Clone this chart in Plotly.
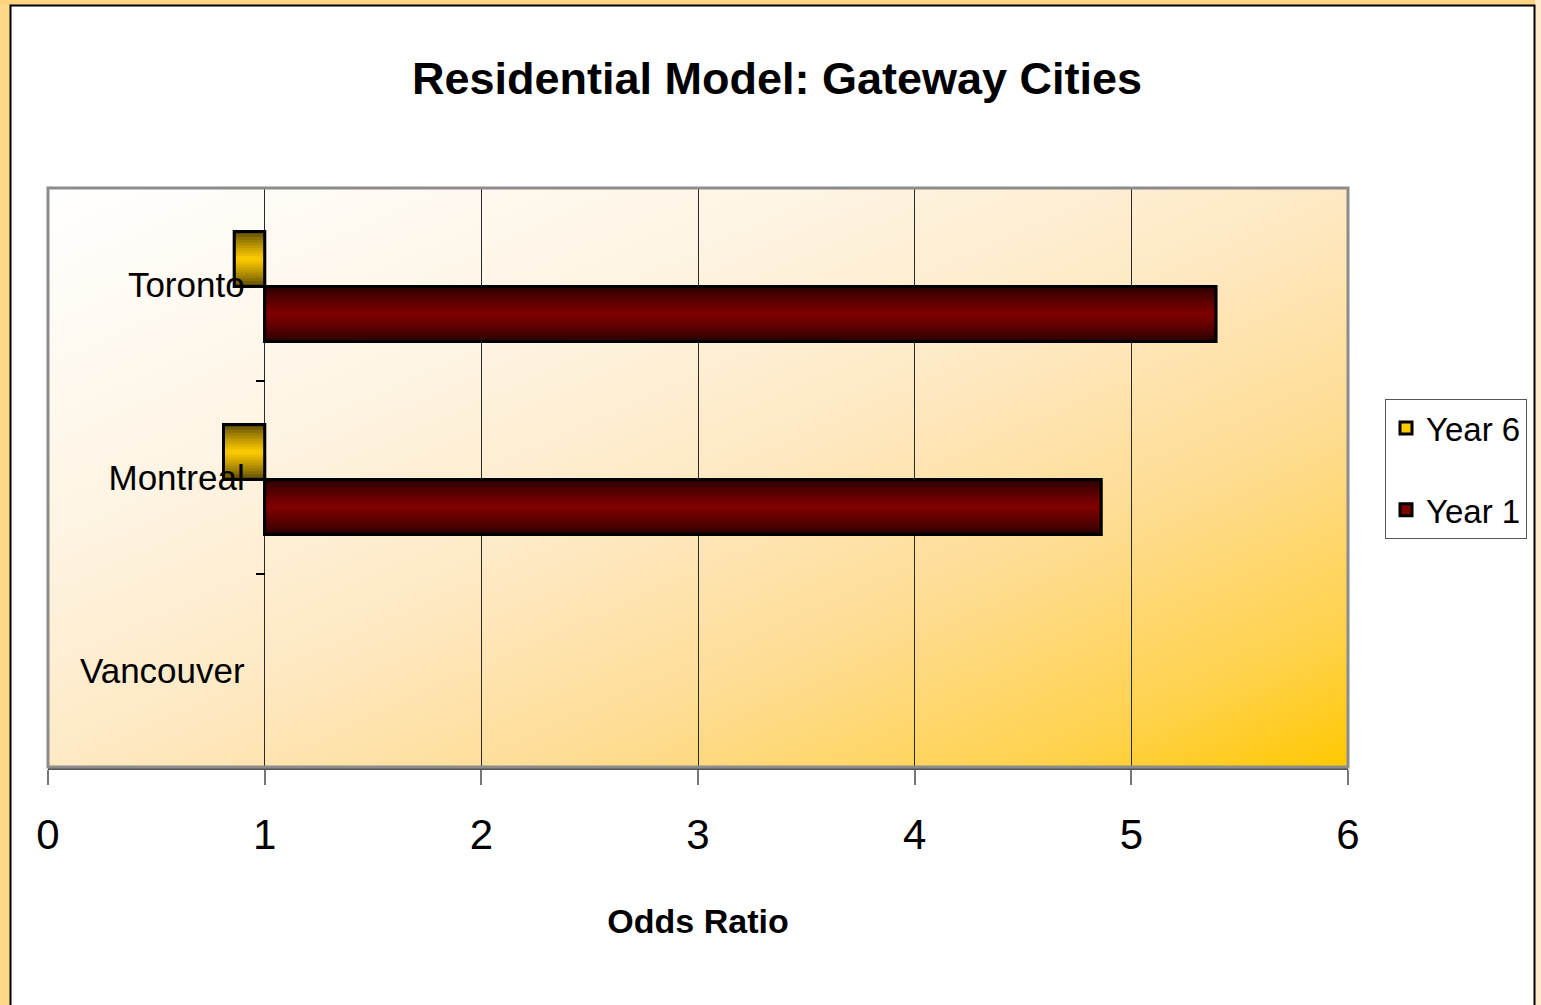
import base64
import plotly.graph_objects as go

# ---- data -------------------------------------------------------------
cities = ["Toronto", "Montreal", "Vancouver"]
year6_odds = [0.86, 0.81, None]
year1_odds = [5.39, 4.86, None]
x_ticks = [0, 1, 2, 3, 4, 5, 6]

REF = 1.0  # bars grow out of odds ratio = 1

FONT = "Liberation Sans Narrow, Arial Narrow, Liberation Sans, Arial, sans-serif"

W, H = 1541, 1005
ML, MR, MT, MB = 48, 193, 188, 238
PW, PH = W - ML - MR, H - MT - MB


def fx(px):
    return (px - ML) / PW


def fy(py):
    return (H - MB - py) / PH


def mix(c1, c2, t):
    a = [int(c1[i:i + 2], 16) for i in (1, 3, 5)]
    b = [int(c2[i:i + 2], 16) for i in (1, 3, 5)]
    return "rgb({},{},{})".format(*[round(a[i] + (b[i] - a[i]) * t) for i in range(3)])


series = [
    dict(name="Year 6", odds=year6_odds, offset=-0.275, width=0.285,
         edge="#4A3C00", center="#FFCC00"),
    dict(name="Year 1", odds=year1_odds, offset=0.01, width=0.285,
         edge="#220000", center="#800000"),
]

fig = go.Figure()
N = 10
for s in series:
    dx = [None if v is None else v - REF for v in s["odds"]]
    common = dict(y=cities, x=dx, base=REF, orientation="h",
                  legendgroup=s["name"], hoverinfo="skip")
    # base bar in the bright centre colour
    fig.add_trace(go.Bar(name=s["name"], offset=s["offset"], width=s["width"],
                         marker=dict(color=s["center"],
                                     line=dict(color="black", width=3)),
                         showlegend=True, **common))
    # darker bands towards the upper and lower edges give the tube shading
    half = s["width"] / 2
    for k in range(N):
        frac = 1 - k / N
        th = frac * half
        col = mix(s["edge"], s["center"], max(frac - 0.5 / N, 0) ** 0.75)
        for off in (s["offset"], s["offset"] + s["width"] - th):
            fig.add_trace(go.Bar(offset=off, width=th,
                                 marker=dict(color=col, line=dict(width=0)),
                                 showlegend=False, **common))
    # crisp black outline on top
    fig.add_trace(go.Bar(offset=s["offset"], width=s["width"],
                         marker=dict(color="rgba(0,0,0,0)",
                                     line=dict(color="black", width=3)),
                         showlegend=False, **common))

# diagonal cream-to-gold fill of the plotting area
svg = (
    '<svg xmlns="http://www.w3.org/2000/svg" width="200" height="100" '
    'viewBox="0 0 200 100" preserveAspectRatio="none">'
    '<defs><linearGradient id="g" x1="0" y1="0" x2="1" y2="1">'
    '<stop offset="0" stop-color="#FFFFFF"/>'
    '<stop offset="0.3" stop-color="#FEF4E3"/>'
    '<stop offset="0.5" stop-color="#FEE9C4"/>'
    '<stop offset="0.7" stop-color="#FEDC92"/>'
    '<stop offset="0.88" stop-color="#FFD24C"/>'
    '<stop offset="1" stop-color="#FFC800"/>'
    '</linearGradient></defs>'
    '<rect width="200" height="100" fill="url(#g)"/></svg>'
)
bg_src = "data:image/svg+xml;base64," + base64.b64encode(svg.encode()).decode()

shapes = [
    # slide margins around the white card
    dict(type="rect", xref="paper", yref="paper", x0=fx(0), x1=fx(10), y0=fy(H), y1=fy(0),
         fillcolor="#FFD888", line=dict(width=0), layer="below"),
    dict(type="rect", xref="paper", yref="paper", x0=fx(0), x1=fx(W), y0=fy(5), y1=fy(0),
         fillcolor="#FFD480", line=dict(width=0), layer="below"),
    dict(type="rect", xref="paper", yref="paper", x0=fx(1535), x1=fx(W), y0=fy(H), y1=fy(0),
         fillcolor="#FDEBCB", line=dict(width=0), layer="below"),
    # card border
    dict(type="rect", xref="paper", yref="paper", x0=fx(10.5), x1=fx(1534.5),
         y0=fy(H + 10), y1=fy(5.5), line=dict(color="black", width=2),
         fillcolor="rgba(0,0,0,0)", layer="below"),
    # plot area frame
    dict(type="rect", xref="paper", yref="paper", x0=0, x1=1, y0=0, y1=1,
         line=dict(color="#8C8C8C", width=3), fillcolor="rgba(0,0,0,0)", layer="above"),
]

fig.update_layout(
    width=W, height=H,
    margin=dict(l=ML, r=MR, t=MT, b=MB),
    paper_bgcolor="white",
    plot_bgcolor="rgba(0,0,0,0)",
    barmode="overlay",
    font=dict(family=FONT, color="black"),
    title=dict(text="Residential Model: Gateway Cities",
               font=dict(family=FONT, size=45, weight="bold", color="black"),
               x=777 / W, xanchor="center", xref="container",
               y=1 - 78 / H, yanchor="middle", yref="container"),
    xaxis=dict(range=[0, 6], tickvals=x_ticks, domain=[0, 1],
               showgrid=True, gridcolor="#2A2A2A", gridwidth=1.2,
               zeroline=False, showline=True, linecolor="#555555", linewidth=3,
               ticks="outside", ticklen=15, tickwidth=1.5, tickcolor="#777777",
               tickfont=dict(family=FONT, size=42, color="black"),
               ticklabelstandoff=14,
               title=dict(text="Odds Ratio", standoff=52,
                          font=dict(family=FONT, size=34, weight="bold",
                                    color="black"))),
    yaxis=dict(type="category", categoryorder="array", categoryarray=cities,
               range=[2.5, -0.5], anchor="free", position=REF / 6,
               showgrid=False, zeroline=False, showline=False,
               ticks="outside", tickson="boundaries", ticklen=9,
               tickwidth=1.5, tickcolor="black",
               tickfont=dict(family=FONT, size=35, color="black"),
               ticklabelstandoff=20),
    legend=dict(x=fx(1385), y=fy(399), xanchor="left", yanchor="top",
                bgcolor="white", bordercolor="#555555", borderwidth=1,
                font=dict(family=FONT, size=33, color="black"),
                traceorder="grouped", tracegroupgap=36),
    images=[dict(source=bg_src, xref="paper", yref="paper", x=0, y=1,
                 sizex=1, sizey=1, xanchor="left", yanchor="top",
                 sizing="stretch", layer="below")],
    shapes=shapes,
)

fig.write_html("out.html")
